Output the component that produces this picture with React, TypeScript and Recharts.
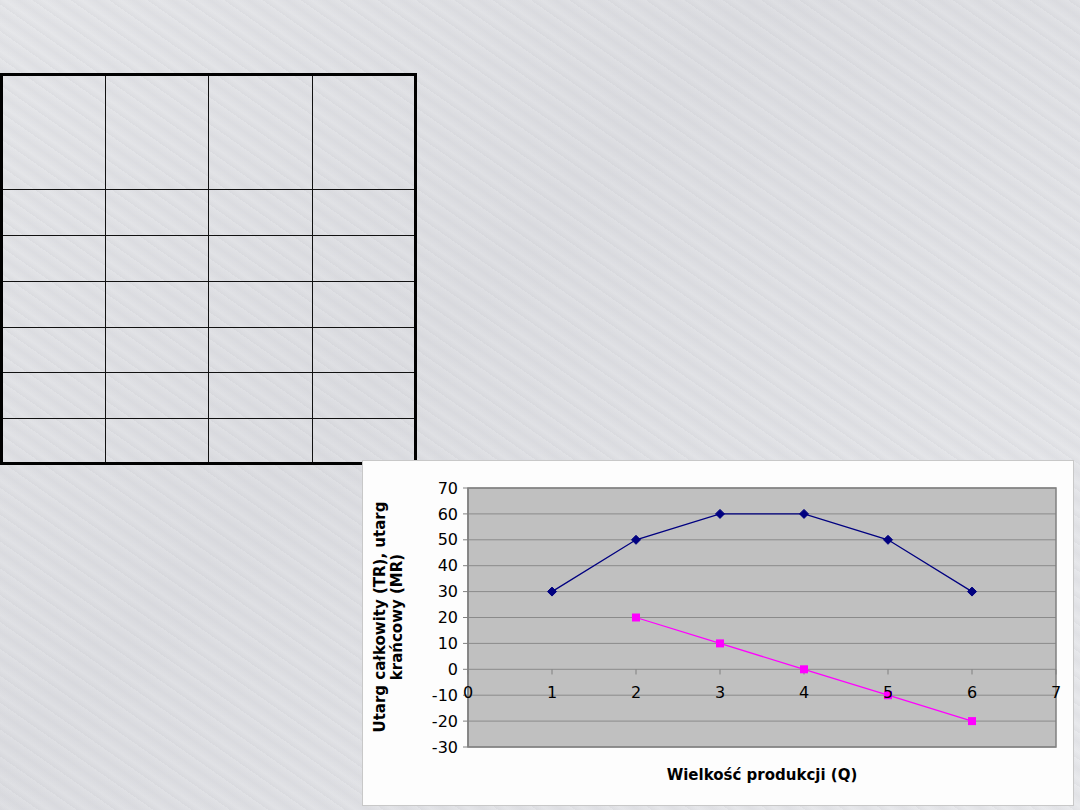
import React from 'react';
import { LineChart, Line, XAxis, YAxis, CartesianGrid, ReferenceArea, ReferenceDot, ReferenceLine } from 'recharts';

// Wielkość produkcji (Q)
const quantities = [1, 2, 3, 4, 5, 6];
// utarg całkowity (TR)
const totalRevenue = [30, 50, 60, 60, 50, 30];
// utarg krańcowy (MR) - brak wartości dla Q=1
const marginalRevenue = [null, 20, 10, 0, -10, -20];

const yTicks = [-30, -20, -10, 0, 10, 20, 30, 40, 50, 60, 70];
const xTicks = [0, 1, 2, 3, 4, 5, 6, 7];

const tableRows = [115, 46, 46, 46, 45, 46, 45];
const tableCols = 4;

const font = '"DejaVu Sans", Verdana, sans-serif';

const Diamond = (props: any) => {
  const { cx, cy } = props;
  if (cx == null || cy == null) return null;
  const s = 4.5;
  return <polygon points={`${cx},${cy - s} ${cx + s},${cy} ${cx},${cy + s} ${cx - s},${cy}`} fill="#000080" stroke="#000080" />;
};

const Square = (props: any) => {
  const { cx, cy, value } = props;
  if (cx == null || cy == null || value == null) return null;
  return <rect x={cx - 4} y={cy - 4} width={8} height={8} fill="#ff00ff" />;
};

export default function App() {
  const data = quantities.map((q, i) => ({ q, tr: totalRevenue[i], mr: marginalRevenue[i] }));

  return (
    <div
      style={{
        position: 'absolute',
        left: 0,
        top: 0,
        width: 1080,
        height: 810,
        overflow: 'hidden',
        fontFamily: font,
        background:
          'repeating-linear-gradient(35deg, rgba(150,150,160,0.10) 0px, rgba(255,255,255,0) 6px, rgba(170,170,180,0.12) 14px, rgba(255,255,255,0) 22px), linear-gradient(135deg, #e6e7ea 0%, #dedfe3 40%, #e9eaed 100%)',
      }}
    >
      {/* pusta tabela */}
      <table
        style={{
          position: 'absolute',
          left: 0,
          top: 73,
          width: 417,
          height: 390,
          borderCollapse: 'collapse',
          tableLayout: 'fixed',
          border: '3px solid #000',
        }}
      >
        <colgroup>
          {Array.from({ length: tableCols }).map((_, c) => (
            <col key={c} style={{ width: '25%' }} />
          ))}
        </colgroup>
        <tbody>
          {tableRows.map((h, r) => (
            <tr key={r} style={{ height: h }}>
              {Array.from({ length: tableCols }).map((_, c) => (
                <td key={c} style={{ border: '1.5px solid #111', padding: 0 }} />
              ))}
            </tr>
          ))}
        </tbody>
      </table>

      <div
        style={{
          position: 'absolute',
          left: 362,
          top: 460,
          width: 710,
          height: 344,
          background: '#fdfdfd',
          border: '1px solid #c8c8c8',
        }}
      >
        <LineChart width={710} height={344} data={data} margin={{ top: 27, right: 17, bottom: 0, left: 0 }}>
          <CartesianGrid vertical={false} stroke="#8a8a8a" fill="#c0c0c0" />
          <ReferenceArea x1={0} x2={7} y1={-30} y2={70} fill="none" stroke="#808080" strokeWidth={1.5} />
          <XAxis
            type="number"
            dataKey="q"
            domain={[0, 7]}
            ticks={xTicks}
            tick={false}
            axisLine={false}
            tickLine={false}
            height={58}
            label={{
              value: 'Wielkość produkcji (Q)',
              position: 'insideTop',
              offset: 22,
              style: { fontFamily: font, fontWeight: 'bold', fontSize: 15, fill: '#000' },
            }}
          />
          <YAxis
            type="number"
            domain={[-30, 70]}
            ticks={yTicks}
            interval={0}
            width={105}
            axisLine={{ stroke: '#808080', strokeWidth: 1.5 }}
            tickLine={{ stroke: '#808080' }}
            tickSize={5}
            tickMargin={5}
            tick={{ fill: '#000', fontSize: 16, fontFamily: font }}
          />
          {xTicks.map((t) => (
            <ReferenceLine
              key={`tl-${t}`}
              segment={[{ x: t, y: 0 }, { x: t, y: -2 }]}
              stroke="#808080"
              ifOverflow="visible"
            />
          ))}
          {xTicks.map((t) => (
            <ReferenceDot
              key={`xl-${t}`}
              x={t}
              y={0}
              r={0}
              fill="none"
              stroke="none"
              ifOverflow="visible"
              label={{ value: String(t), position: 'bottom', offset: 17, fill: '#000', fontSize: 16, fontFamily: font }}
            />
          ))}
          <Line
            type="linear"
            dataKey="tr"
            stroke="#000080"
            strokeWidth={1.3}
            dot={<Diamond />}
            activeDot={false}
            isAnimationActive={false}
          />
          <Line
            type="linear"
            dataKey="mr"
            stroke="#ff00ff"
            strokeWidth={1.3}
            dot={<Square />}
            activeDot={false}
            connectNulls={false}
            isAnimationActive={false}
          />
        </LineChart>

        {/* tytuł osi Y */}
        <div
          style={{
            position: 'absolute',
            left: 26,
            top: 156,
            width: 300,
            transform: 'translate(-50%, -50%) rotate(-90deg)',
            textAlign: 'center',
            fontWeight: 'bold',
            fontSize: 15,
            lineHeight: '17px',
            color: '#000',
            whiteSpace: 'nowrap',
          }}
        >
          <div>Utarg całkowity (TR), utarg</div>
          <div>krańcowy (MR)</div>
        </div>
      </div>
    </div>
  );
}
